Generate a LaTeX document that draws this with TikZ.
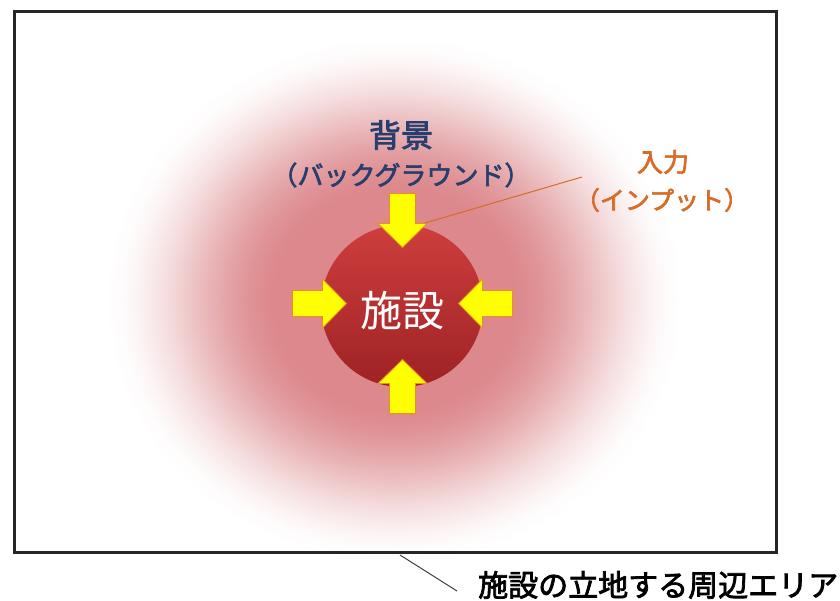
\documentclass[tikz,border=0pt]{standalone}
\usepackage{fontspec}
\newfontfamily\cjk{Noto Sans CJK JP}
\newfontfamily\cjkb[FakeBold=2.5]{Noto Sans CJK JP}
\definecolor{glowc}{RGB}{220,136,140}
\definecolor{navyt}{RGB}{40,62,108}
\definecolor{oranget}{RGB}{215,108,38}
\definecolor{circtop}{RGB}{206,62,62}
\definecolor{circbot}{RGB}{158,34,36}
\definecolor{arrowedge}{RGB}{240,140,40}
\tikzset{
  yarrow/.style={fill={rgb,255:red,255;green,255;blue,0}, draw=arrowedge, line width=0.8pt, line join=miter},
  frame/.style={draw=black!85, line width=3pt},
  leader/.style={line width=1pt},
}
\begin{document}
\begin{tikzpicture}[x=1pt,y=1pt]
\useasboundingbox (0,0) rectangle (840,601);
\fill[white] (0,0) rectangle (840,601);
% glow (stacked ellipses)
\foreach \i in {0,...,70}{
  \pgfmathsetmacro\rr{1.05-0.65*\i/70}
  \pgfmathsetmacro\xx{\i/70}
  \pgfmathsetmacro\pp{100*\xx*\xx*(3-2*\xx)}
  \fill[glowc!\pp!white] (395,301) ellipse [x radius=280*\rr, y radius=255*\rr];
}
% frame
\draw[frame] (14,48) rectangle (776,589);
% facility circle
\shade[top color=circtop, bottom color=circbot] (402,295) circle [radius=81];
% arrows
\begin{scope}[shift={(402.5,297.5)}]
  \foreach \a in {0,90,180,270}{
    \draw[yarrow, rotate=\a] (0,56) -- (24.5,80) -- (13,80) -- (13,110) -- (-13,110) -- (-13,80) -- (-24.5,80) -- cycle;
  }
\end{scope}
\node[text=white, font=\cjk\fontsize{42}{46}\selectfont, inner sep=0pt] (fac) at (402,290) {施設};
% labels
\node[text=navyt, font=\cjkb\fontsize{32}{36}\selectfont, inner sep=0pt] (bg1) at (401,466) {背景};
\node[text=navyt, font=\cjkb\fontsize{26}{30}\selectfont, inner sep=0pt] (bg2) at (401,426) {（バックグラウンド）};
\node[text=oranget, font=\cjkb\fontsize{26}{30}\selectfont, inner sep=0pt] (in1) at (663,439) {入力};
\node[text=oranget, font=\cjkb\fontsize{25}{29}\selectfont, inner sep=0pt] (in2) at (662,401) {（インプット）};
\node[text=black, font=\cjkb\fontsize{30}{34}\selectfont, inner sep=0pt, anchor=west] (area) at (478,16) {施設の立地する周辺エリア};
% leaders
\coordinate (inTip) at (425,378);
\coordinate (inEnd) at (582,424);
\draw[leader, draw=oranget] (inTip) -- (inEnd);
\coordinate (arTip) at (400,46);
\coordinate (arEnd) at (457,10);
\draw[leader, draw=black!75] (arTip) -- (arEnd);
\end{tikzpicture}
\end{document}
